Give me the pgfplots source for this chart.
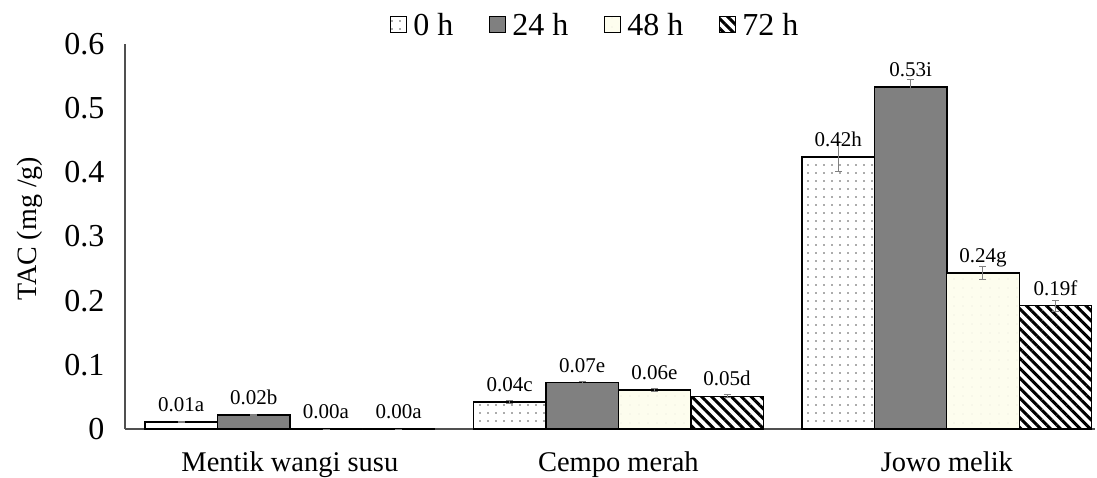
\documentclass[border=0pt]{standalone}
\usepackage{fontspec}
\setmainfont{Liberation Serif}
\usepackage{pgfplots}
\usepackage{pgfplotstable}
\pgfplotsset{compat=1.18}
\usetikzlibrary{patterns.meta}
\definecolor{bargray}{RGB}{128,128,128}
\definecolor{cream}{RGB}{253,253,238}
\definecolor{axgray}{RGB}{80,80,80}

\pgfplotstableread{
x y e lab
0 0.011 0.001 0.01a
1 0.042 0.002 0.04c
2 0.424 0.023 0.42h
}\tzero
\pgfplotstableread{
x y e lab
0 0.022 0.001 0.02b
1 0.072 0.002 0.07e
2 0.533 0.012 0.53i
}\ttwentyfour
\pgfplotstableread{
x y e lab
0 0.000 0.000 0.00a
1 0.061 0.002 0.06e
2 0.243 0.010 0.24g
}\tfortyeight
\pgfplotstableread{
x y e lab
0 0.000 0.000 0.00a
1 0.051 0.002 0.05d
2 0.192 0.009 0.19f
}\tseventytwo

\begin{document}
\begin{tikzpicture}
\path[use as bounding box] (-125pt,-48pt) rectangle (972pt,429pt);
\begin{axis}[
  scale only axis,
  width=970pt, height=385pt,
  xmin=-0.502, xmax=2.451,
  ymin=0, ymax=0.6,
  ybar,
  bar width=0.2207,
  axis x line=bottom, axis y line=left,
  axis line style={-, axgray, line width=1.2pt},
  major tick length=0pt,
  xtick={0,1,2},
  xticklabels={Mentik wangi susu, Cempo merah, Jowo melik},
  ytick={0,0.1,0.2,0.3,0.4,0.5,0.6},
  /pgf/number format/assume math mode=true,
  xticklabel style={font=\fontsize{28.5}{31}\selectfont, anchor=base, yshift=-42pt},
  yticklabel style={font=\fontsize{32}{35}\selectfont, xshift=-17pt},
  ylabel={TAC (mg /g)},
  every axis y label/.style={at={(axis description cs:-0.098,0.52)}, rotate=90, anchor=center, font=\fontsize{28}{31}\selectfont},
  point meta=explicit symbolic,
  nodes near coords,
  every node near coord/.append style={font=\fontsize{21}{23}\selectfont, inner sep=0pt, anchor=base, yshift=10.5pt, black},
  error bars/y dir=both,
  error bars/y explicit,
  error bars/error bar style={line width=1pt, gray},
  error bars/error mark options={rotate=90, mark size=3.5pt, line width=1pt, gray},
  legend columns=-1,
  legend style={at={(0.485,1)}, anchor=south, yshift=3pt, draw=none, fill=none,
    font=\fontsize{32}{35}\selectfont,
    /tikz/every even column/.append style={column sep=34pt},
    /tikz/every odd column/.append style={column sep=4pt}},
  legend image code/.code={\draw[#1, /tikz/line width=1pt] (0pt,-8pt) rectangle (16pt,8pt);},
  clip=false,
]
\addplot[draw=black, line width=1.3pt, fill=white, bar shift=-0.331,
  postaction={pattern={Dots[distance=8pt, radius=0.8pt]}, pattern color=black!65}]
  table[x=x, y=y, y error=e, meta=lab] {\tzero};
\addplot[draw=black, line width=1.3pt, fill=bargray, bar shift=-0.110]
  table[x=x, y=y, y error=e, meta=lab] {\ttwentyfour};
\addplot[draw=black, line width=1.3pt, fill=cream, bar shift=0.110,
  postaction={pattern={Dots[distance=9pt, radius=0.7pt]}, pattern color=yellow!30!black!15}]
  table[x=x, y=y, y error=e, meta=lab] {\tfortyeight};
\addplot[draw=black, line width=1.3pt, fill=white, bar shift=0.331,
  postaction={pattern={Lines[angle=-45, distance=7pt, line width=3pt]}, pattern color=black}]
  table[x=x, y=y, y error=e, meta=lab] {\tseventytwo};
\legend{0 h, 24 h, 48 h, 72 h}
\end{axis}
\end{tikzpicture}
\end{document}
